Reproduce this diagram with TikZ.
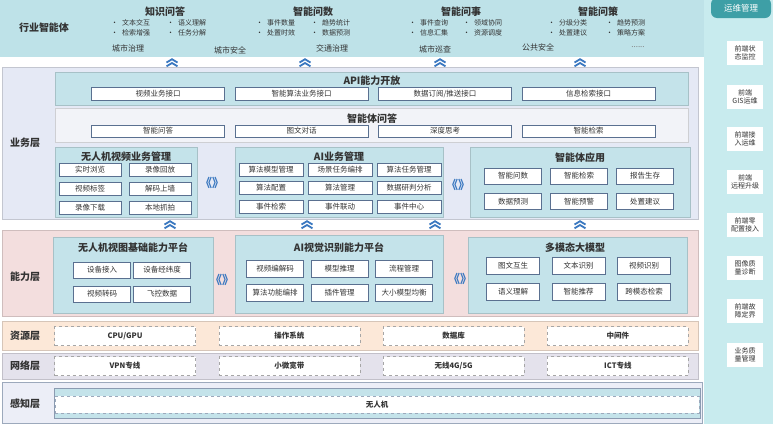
\documentclass[tikz,border=0pt]{standalone}
\usepackage{fontspec}
\setmainfont{Noto Sans CJK SC}
\usetikzlibrary{positioning}
\definecolor{topband}{HTML}{BEE2E8}
\definecolor{bizband}{HTML}{E5E9F5}
\definecolor{capband}{HTML}{F3DEDE}
\definecolor{resband}{HTML}{FCE8D8}
\definecolor{netband}{HTML}{E4E2EC}
\definecolor{senseband}{HTML}{ECEEF7}
\definecolor{grpfill}{HTML}{C4E3EA}
\definecolor{qafill}{HTML}{F2F3F8}
\definecolor{itemline}{HTML}{5A7090}
\definecolor{chevblue}{HTML}{3A78C0}
\definecolor{opsband}{HTML}{C8EBEE}
\definecolor{opstitle}{HTML}{3E9FA6}
\definecolor{txt}{HTML}{333333}

\tikzset{
  band/.style={draw=#1!85!black, fill=#1, line width=0.5pt},
  grp/.style={draw=grpfill!85!black, fill=grpfill, line width=0.5pt},
  item/.style={draw=itemline, line width=0.6pt, fill=white, inner sep=0pt, text=txt,
    font=\fontsize{7.5}{8}\selectfont},
  gtitle/.style={font=\bfseries\fontsize{10}{11}\selectfont, text=txt},
  layer/.style={font=\bfseries\fontsize{10}{11}\selectfont, text=txt},
  bul/.style={anchor=west, inner sep=0pt, font=\fontsize{7}{7}\selectfont, text=txt},
  city/.style={font=\fontsize{8}{8}\selectfont, text=txt},
  dbox/.style={draw=gray!70, dashed, fill=white, minimum width=141pt, minimum height=19pt,
    inner sep=0pt, font=\bfseries\fontsize{7.5}{8}\selectfont, text=txt},
  swap/.style={font=\bfseries\fontsize{12}{12}\selectfont, text=chevblue, inner sep=0pt},
  opsitem/.style={fill=white, align=center, minimum width=36pt, minimum height=24pt,
    inner sep=0pt, font=\fontsize{7}{8}\selectfont, text=txt},
}
\newcommand{\dblchev}[2]{%
  \draw[chevblue, line width=1.8pt] (#1-5.5,#2-0.5) -- (#1,#2-3.8) -- (#1+5.5,#2-0.5);
  \draw[chevblue, line width=1.8pt] (#1-5.5,#2+3.3) -- (#1,#2) -- (#1+5.5,#2+3.3);}

\begin{document}
\begin{tikzpicture}[x=1pt, y=-1pt]
  \useasboundingbox (0,0) rectangle (773,424);

  % top band
  \fill[topband] (0,0) rectangle (706,57);
  \node[layer] (ind) at (44,28) {行业智能体};
  \node[gtitle] (kqa) at (165,12) {知识问答};
  \node[gtitle] (kqs) at (313,12) {智能问数};
  \node[gtitle] (kqe) at (461,12) {智能问事};
  \node[gtitle] (kqp) at (598,12) {智能问策};
  \foreach \t/\x/\y [count=\i] in {文本交互/111/23, 语义理解/167/23, 检索增强/111/33, 任务分解/167/33,
      事件数量/256/23, 趋势统计/311/23, 处置时效/256/33, 数据预测/311/33,
      事件查询/409/23, 领域协同/463/23, 信息汇集/409/33, 资源调度/463/33,
      分级分类/548/23, 趋势预测/606/23, 处置建议/548/33, 策略方案/606/33}
    \node[bul] (b\i) at (\x,\y) {•\hspace{4pt}\t};
  \foreach \t/\x/\y [count=\i] in {城市治理/128/48, 城市安全/230/50, 交通治理/332/48,
      城市巡查/435/49, 公共安全/538/47}
    \node[city] (c\i) at (\x,\y) {\t};
  \node[city, text=gray] (cmore) at (638,47) {......};

  \foreach \x in {172,305,440,580} {\dblchev{\x}{63}}

  % business layer
  \draw[band=bizband] (2,67) rectangle (698,219);
  \node[layer] (biz) at (25,143) {业务层};
  \draw[grp] (55,72) rectangle (688,105);
  \node[gtitle] (api) at (372,81) {API能力开放};
  \foreach \t [count=\i] in {视频业务接口, 智能算法业务接口, 数据订阅/推送接口, 信息检索接口}
    \node[item, minimum width=133pt, minimum height=13pt] (api\i) at (14.5+143.5*\i,94) {\t};
  \draw[draw=qafill!85!black, fill=qafill] (55,108) rectangle (688,142);
  \node[gtitle] (qa) at (372,119) {智能体问答};
  \foreach \t [count=\i] in {智能问答, 图文对话, 深度思考, 智能检索}
    \node[item, minimum width=133pt, minimum height=12pt] (qa\i) at (14.5+143.5*\i,131) {\t};

  \draw[grp] (55,147) rectangle (197,217);
  \node[gtitle] (uavb) at (126,157) {无人机视频业务管理};
  \foreach \t [count=\i from 0, evaluate=\i as \c using {mod(\i,2)}, evaluate=\i as \r using {int(\i/2)}]
      in {实时浏览, 录像回放, 视频标签, 解码上墙, 录像下载, 本地抓拍}
    \node[item, minimum width=62pt, minimum height=13pt] (ub\i) at (90+70*\c,169.5+19.3*\r) {\t};
  \node[swap] (sw1) at (212,183) {《》};

  \draw[grp] (235,147) rectangle (443,217);
  \node[gtitle] (aib) at (339,157) {AI业务管理};
  \foreach \t [count=\i from 0, evaluate=\i as \c using {mod(\i,3)}, evaluate=\i as \r using {int(\i/3)}]
      in {算法模型管理, 场景任务编排, 算法任务管理, 算法配置, 算法管理, 数据研判分析, 事件检索, 事件联动, 事件中心}
    \node[item, minimum width=64pt, minimum height=13pt] (ab\i) at (271+69*\c,169.5+18.5*\r) {\t};
  \node[swap] (sw2) at (458,185) {《》};

  \draw[grp] (470,147) rectangle (690,217);
  \node[gtitle] (agb) at (580,158) {智能体应用};
  \foreach \t [count=\i from 0, evaluate=\i as \c using {mod(\i,3)}, evaluate=\i as \r using {int(\i/3)}]
      in {智能问数, 智能检索, 报告生存, 数据预测, 智能预警, 处置建议}
    \node[item, minimum width=57pt, minimum height=16pt] (gb\i) at (513+66*\c,176+25.5*\r) {\t};

  \foreach \x in {170,307,435,580} {\dblchev{\x}{225}}

  % capability layer
  \draw[band=capband] (2,230) rectangle (698,316);
  \node[layer] (cap) at (25,277) {能力层};
  \draw[grp] (53,237) rectangle (213,313);
  \node[gtitle] (uavc) at (133,248) {无人机视图基础能力平台};
  \foreach \t [count=\i from 0, evaluate=\i as \c using {mod(\i,2)}, evaluate=\i as \r using {int(\i/2)}]
      in {设备接入, 设备经纬度, 视频转码, 飞控数据}
    \node[item, minimum width=57pt, minimum height=16pt] (uc\i) at (102+60*\c,270+24*\r) {\t};
  \node[swap] (sw3) at (222,280) {《》};

  \draw[grp] (235,235) rectangle (443,313);
  \node[gtitle] (aic) at (339,248) {AI视觉识别能力平台};
  \foreach \t [count=\i from 0, evaluate=\i as \c using {mod(\i,3)}, evaluate=\i as \r using {int(\i/3)}]
      in {视频编解码, 模型推理, 流程管理, 算法功能编排, 插件管理, 大小模型均衡}
    \node[item, minimum width=57pt, minimum height=17pt] (ac\i) at (275+64.5*\c,268.5+24*\r) {\t};
  \node[swap] (sw4) at (460,279) {《》};

  \draw[grp] (468,237) rectangle (687,313);
  \node[gtitle] (mmc) at (575,248) {多模态大模型};
  \foreach \t [count=\i from 0, evaluate=\i as \c using {mod(\i,3)}, evaluate=\i as \r using {int(\i/3)}]
      in {图文互生, 文本识别, 视频识别, 语义理解, 智能推荐, 跨模态检索}
    \node[item, minimum width=53pt, minimum height=17pt] (mc\i) at (513+65.5*\c,266+25.5*\r) {\t};

  % resource, network, sensing layers
  \draw[band=resband] (2,321) rectangle (698,350);
  \node[layer] (res) at (25,336) {资源层};
  \foreach \t [count=\i from 0] in {CPU/GPU, 操作系统, 数据库, 中间件}
    \node[dbox] (r\i) at (125+164.3*\i,336) {\t};
  \draw[band=netband] (2,353) rectangle (698,379);
  \node[layer] (net) at (25,366) {网络层};
  \foreach \t [count=\i from 0] in {VPN专线, 小微宽带, 无线4G/5G, ICT专线}
    \node[dbox] (n\i) at (125+164.3*\i,366) {\t};
  \draw[draw=itemline!60, fill=senseband, line width=0.6pt] (2,382) rectangle (702,423);
  \node[layer] (sense) at (25,404) {感知层};
  \draw[draw=itemline!70, fill=grpfill, line width=0.6pt] (54,388) rectangle (700,418);
  \node[dbox, draw=itemline!60, minimum width=644pt, minimum height=17pt] (uav) at (377,404.5) {无人机};

  % ops column
  \fill[opsband] (704,0) rectangle (773,424);
  \node[fill=opstitle, rounded corners=6pt, minimum width=60pt, minimum height=20pt, inner sep=0pt,
    text=white, font=\fontsize{8.5}{9}\selectfont] (ops) at (741,8) {运维管理};
  \foreach \t/\y [count=\i] in {{前端状\\态监控}/53, {前端\\GIS运维}/97, {前端接\\入运维}/139, {前端\\远程升级}/182,
      {前端零\\配置接入}/225, {图像质\\量诊断}/268, {前端故\\障定界}/311, {业务质\\量管理}/355}
    \node[opsitem] (op\i) at (745,\y) {\t};
\end{tikzpicture}
\end{document}
